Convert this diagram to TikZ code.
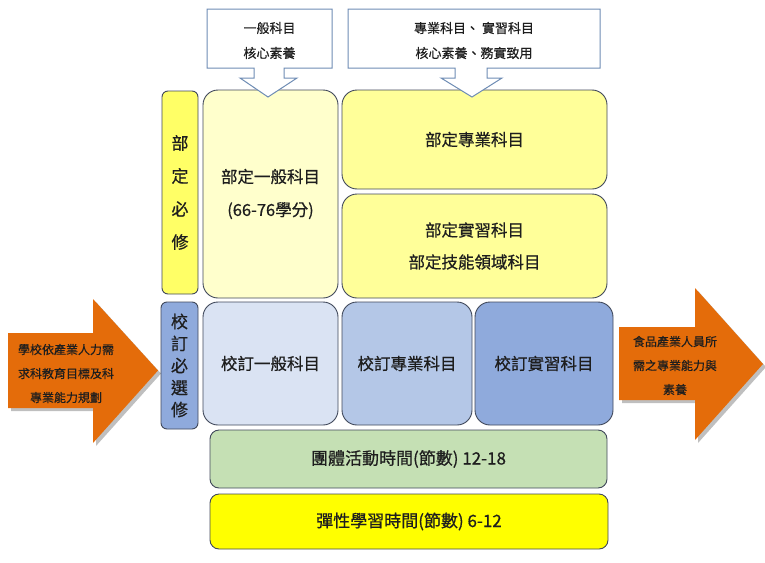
\documentclass[tikz,border=0pt]{standalone}
\usepackage{xcolor}
\usepackage{fontspec}
\newfontfamily\cjk[FakeBold=0.6]{Noto Sans CJK TC}
\usepackage{tikz}
\usetikzlibrary{calc,shapes,arrows}

\definecolor{tabyellow}{RGB}{255,255,102}
\definecolor{paleyellow}{RGB}{255,255,204}
\definecolor{midyellow}{RGB}{255,255,153}
\definecolor{blueA}{RGB}{218,227,243}
\definecolor{blueB}{RGB}{180,199,231}
\definecolor{blueC}{RGB}{143,170,220}
\definecolor{actgreen}{RGB}{197,224,180}
\definecolor{flexyellow}{RGB}{255,255,0}
\definecolor{arroworange}{RGB}{228,108,10}
\definecolor{boxline}{RGB}{64,72,90}
\definecolor{calloutline}{RGB}{110,140,180}
\definecolor{txt}{RGB}{30,30,30}

\tikzset{
	subj/.style={draw=boxline, line width=0.9pt, rounded corners=15pt, inner sep=0pt, outer sep=0pt, align=center, text=txt, font=\cjk\fontsize{16.5}{33}\selectfont},
	tab/.style={subj, rounded corners=6pt, font=\cjk\fontsize{17}{33}\selectfont},
	bar/.style={subj, rounded corners=9pt, font=\cjk\fontsize{17}{20}\selectfont},
	callout/.style={draw=calloutline, line width=1pt, fill=white},
	calltext/.style={align=center, text=txt, font=\cjk\fontsize{13}{25}\selectfont},
	bigarrow/.style={fill=arroworange},
	arrowshadow/.style={fill=black, opacity=0.25},
	arrowtext/.style={align=center, text=txt, font=\cjk\fontsize{12}{24}\selectfont},
}

\begin{document}
\begin{tikzpicture}[x=1pt, y=-1pt]
	\useasboundingbox (0,0) rectangle (765,562);
	
	% side tabs
	\node (tabA) at (180,192.5) [tab, fill=tabyellow, minimum width=36, minimum height=203] {部\\定\\必\\修};
	\node (tabB) at (179.5,365.5) [tab, fill=blueC, minimum width=37, minimum height=127, font=\cjk\fontsize{17}{22}\selectfont] {校\\訂\\必\\選\\修};
	
	% required subjects
	\node (genA) at (270.5,194) [subj, fill=paleyellow, minimum width=135, minimum height=208] {部定一般科目\\(66-76學分)};
	\node (proA) at (474.5,139.5) [subj, fill=midyellow, minimum width=265, minimum height=99] {部定專業科目};
	\node (pracA) at (474.5,246) [subj, fill=midyellow, minimum width=265, minimum height=104] {部定實習科目\\[-1pt]部定技能領域科目};
	
	% school subjects
	\foreach \n/\x/\w/\c/\t in {genB/270.5/135/blueA/校訂一般科目, proB/407/130/blueB/校訂專業科目, pracB/544/138/blueC/校訂實習科目} {
		\node (\n) at (\x,363.5) [subj, fill=\c, minimum width=\w, minimum height=123] {\t};
	}
	
	% hours
	\node (act) at (408.5,459) [bar, fill=actgreen, minimum width=397, minimum height=58] {團體活動時間(節數) 12-18};
	\node (flex) at (409,521.5) [bar, fill=flexyellow, minimum width=398, minimum height=55] {彈性學習時間(節數) 6-12};
	
	% callouts on top
	\draw [callout] (207,9) -- (332,9) -- (332,68) -- (284,68) -- (284,78) -- (297,78) -- (268,97) -- (240,78) -- (254,78) -- (254,68) -- (207,68) -- cycle;
	\node (callA) at (269.5,40.5) [calltext] {一般科目\\核心素養};
	\draw [callout] (348,9) -- (600,9) -- (600,68) -- (487,68) -- (487,78) -- (502,78) -- (472,97) -- (441,78) -- (455,78) -- (455,68) -- (348,68) -- cycle;
	\node (callB) at (474,40.5) [calltext] {專業科目、 實習科目\\核心素養、務實致用};
	
	% orange arrows
	\fill [arrowshadow, shift={(3,3)}] (8,333) -- (93,333) -- (93,299) -- (158,370.5) -- (93,443) -- (93,408) -- (8,408) -- cycle;
	\fill [bigarrow] (8,333) -- (93,333) -- (93,299) -- (158,370.5) -- (93,443) -- (93,408) -- (8,408) -- cycle;
	\node (needL) at (66,373.5) [arrowtext] {學校依產業人力需\\求科教育目標及科\\專業能力規劃};
	\fill [arrowshadow, shift={(3,3)}] (619,327) -- (695,327) -- (695,288) -- (763,364) -- (695,440) -- (695,400) -- (619,400) -- cycle;
	\fill [bigarrow] (619,327) -- (695,327) -- (695,288) -- (763,364) -- (695,440) -- (695,400) -- (619,400) -- cycle;
	\node (outR) at (675,365.5) [arrowtext] {食品產業人員所\\需之專業能力與\\素養};
\end{tikzpicture}
\end{document}
